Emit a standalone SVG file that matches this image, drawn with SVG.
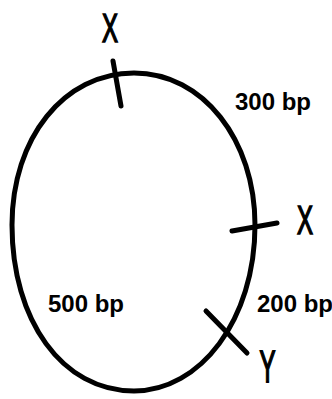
<svg xmlns="http://www.w3.org/2000/svg" width="332" height="399" viewBox="0 0 332 399">
<style>
.ring{fill:none;stroke:#000;stroke-width:5}
.tick{stroke:#000;stroke-width:5;stroke-linecap:round}
.lbl{font-family:"Liberation Sans",Arial,sans-serif;font-size:24px;font-weight:bold;fill:#000}
.site{font-family:"Liberation Sans",Arial,sans-serif;font-size:40px;fill:#000;stroke:#000;stroke-width:1.6}
</style>
<rect width="332" height="399" fill="#fff"/>
<g id="plasmid">
<path class="ring" d="M134 73 C203 73 255 140 255 225 C255 320 200 391 134 391 C62 391 12 320 12 225 C12 138 64 73 134 73 Z"/>
</g>
<g id="connectors">
<line class="tick" x1="113" y1="61" x2="121" y2="106"/>
<line class="tick" x1="232" y1="231" x2="277" y2="223"/>
<line class="tick" x1="206" y1="311" x2="247" y2="353"/>
</g>
<g id="site-x-top"><text class="site" transform="translate(110,42) scale(0.6,1)" text-anchor="middle">X</text></g>
<g id="site-x-right"><text class="site" transform="translate(305,234) scale(0.6,1)" text-anchor="middle">X</text></g>
<g id="site-y"><text class="site" transform="translate(267.5,382) scale(0.6,1.1)" text-anchor="middle">Y</text></g>
<g id="label-300"><text class="lbl" x="235" y="110">300 bp</text></g>
<g id="label-500"><text class="lbl" x="48" y="312">500 bp</text></g>
<g id="label-200"><text class="lbl" x="257" y="312">200 bp</text></g>
</svg>
